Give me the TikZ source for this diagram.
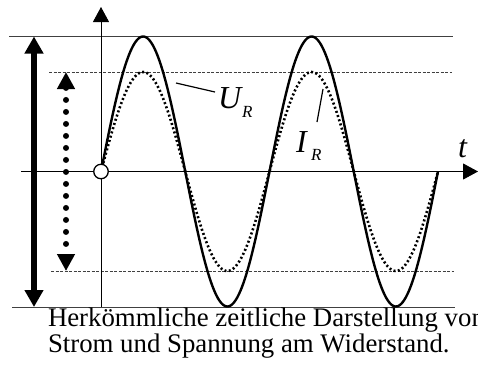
\documentclass[tikz,border=0pt]{standalone}
\usepackage{fontspec}
\setmainfont{Liberation Serif}
\usetikzlibrary{arrows.meta, positioning}

\begin{document}
\begin{tikzpicture}[
    x=1pt, y=-1pt,
    every node/.style={inner sep=0pt, outer sep=0pt},
    frameline/.style={line width=1pt, black!75},
    guideline/.style={line width=1pt, black!75, dash pattern=on 3pt off 1.5pt},
    axisline/.style={line width=0.9pt, -{Triangle[length=15pt, width=16pt]}},
    ucurve/.style={line width=2.4pt},
    icurve/.style={line width=2.6pt, dash pattern=on 2pt off 2.4pt},
    uarrow/.style={line width=5.5pt, {Triangle[length=17pt, width=18pt]}-{Triangle[length=17pt, width=18pt]}},
    iarrow/.style={line width=6pt, line cap=round, dash pattern=on 0pt off 12pt,
                   {Triangle[length=17pt, width=17pt]}-{Triangle[length=17pt, width=17pt]}},
    labelsym/.style={font=\fontsize{32}{32}\selectfont\itshape, anchor=base west},
    labelsub/.style={font=\fontsize{17}{17}\selectfont\itshape, anchor=base west},
    captiontext/.style={font=\fontsize{26.8}{26.8}\selectfont, anchor=base west},
    leader/.style={line width=1.2pt}
]
\clip (0,0) rectangle (478,365);

\coordinate (origin) at (101,171.5);
\coordinate (axisleft) at (21,171.5);
\coordinate (axisright) at (478,171.5);
\coordinate (axisbottom) at (101,307);
\coordinate (axistop) at (101,7);

\draw [frameline] (9,36.5) -- (453,36.5);
\draw [frameline] (12,307) -- (455,307);
\draw [guideline] (49,72) -- (452,72);
\draw [guideline] (51,271) -- (454,271);

\draw [axisline] (axisleft) -- (axisright);
\draw [axisline] (axisbottom) -- (axistop);

\draw [uarrow] (34,36.5) -- (34,307);
\draw [iarrow] (66,72) -- (66,271);

\draw [icurve] plot[domain=0:337, samples=240, smooth] ({101+\x}, {171.5-99.5*sin(2.13650*\x)});
\draw [ucurve] plot[domain=0:337, samples=240, smooth] ({101+\x}, {171.5-135*sin(2.13650*\x)});

\node (start) [circle, draw, fill=white, line width=1.3pt, minimum size=14.5pt] at (origin) {};

\node (ulabel) [labelsym] at (218,108) {U};
\node (usub) [labelsub] at (242,117) {R};
\node (ilabel) [labelsym] at (296,152) {I};
\node (isub) [labelsub] at (311,160) {R};
\node (tlabel) [labelsym] at (458,157) {t};

\coordinate (utouch) at (176,83);
\coordinate (uend) at (215,92);
\coordinate (itouch) at (323,89);
\coordinate (iend) at (317,122);
\draw [leader] (utouch) -- (uend);
\draw [leader] (itouch) -- (iend);

\node (captop) [captiontext] at (48,326) {Herkömmliche zeitliche Darstellung von};
\node (capbottom) [captiontext] at (48,352) {Strom und Spannung am Widerstand.};

\end{tikzpicture}
\end{document}
